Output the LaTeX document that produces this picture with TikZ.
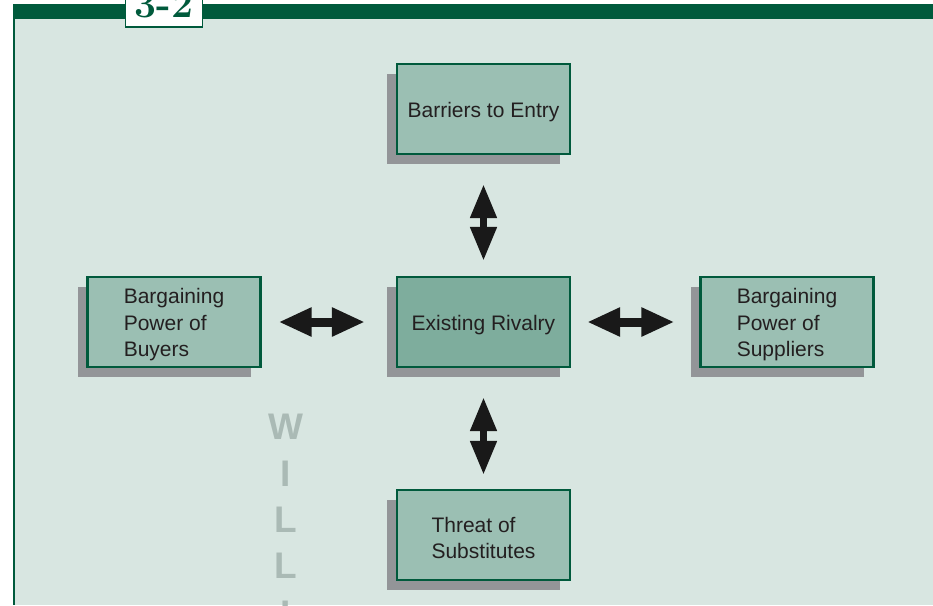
\documentclass[tikz,border=0pt]{standalone}
\usepackage{fontspec}
\setmainfont{Liberation Sans}
\newfontfamily\lblfont{Latin Modern Roman}
\usetikzlibrary{arrows.meta,shadows}
\definecolor{dkgreen}{HTML}{005A3C}
\definecolor{bgteal}{HTML}{D8E6E1}
\definecolor{boxfill}{HTML}{9BBFB3}
\definecolor{rivfill}{HTML}{7EAD9D}
\definecolor{shadowgray}{HTML}{939598}
\definecolor{wmark}{HTML}{AABAB5}
\definecolor{txt}{HTML}{231F20}
\tikzset{
  forcebox/.style={draw=dkgreen, line width=2.2pt, fill=boxfill,
    minimum width=173pt, minimum height=90pt, inner sep=0pt,
    drop shadow={shadow xshift=-10pt, shadow yshift=-10pt, opacity=1, fill=shadowgray}},
  boxtext/.style={align=left, text=txt, font=\fontsize{21}{26.5}\selectfont, inner sep=0pt},
  hdblarrow/.style={draw=black!90, fill=black!90, line width=9pt,
    {Triangle[length=33pt,width=27pt]}-{Triangle[length=33pt,width=27pt]}},
  vdblarrow/.style={draw=black!90, fill=black!90, line width=7.5pt,
    {Triangle[length=34pt,width=25pt]}-{Triangle[length=34pt,width=25pt]}},
  wletter/.style={text=wmark, font=\fontsize{37}{37}\bfseries\selectfont, inner sep=0pt}
}
\begin{document}
\begin{tikzpicture}[x=1pt,y=-1pt]
\useasboundingbox (0,0) rectangle (933,605);
\clip (0,0) rectangle (933,605);
% background
\fill[bgteal] (13,4) rectangle (933,605);
\fill[dkgreen] (13,4) rectangle (933,18.5);
\fill[dkgreen] (13,4) rectangle (15,605);
% label box
\node[draw=dkgreen, line width=1.5pt, fill=white, minimum width=77pt, minimum height=50pt, inner sep=0pt] (lbl) at (164,2) {};
\node[text=dkgreen, font=\fontsize{39}{39}\lblfont\bfseries, anchor=base, inner sep=0pt] (lbltxt) at (164,17) {3-2};
% watermark letters
\node[wletter] (w1) at (286,427) {W};
\node[wletter] (w2) at (286,474) {I};
\node[wletter] (w3) at (286,520) {L};
\node[wletter] (w4) at (286,566) {L};
\node[wletter] (w5) at (286,614) {I};
% boxes
\node[forcebox] (bar) at (483.5,109) {};
\node[forcebox] (buy) at (174,322) {};
\node[forcebox, fill=rivfill] (riv) at (483.5,322) {};
\node[forcebox] (sup) at (787,322) {};
\node[forcebox] (sub) at (483.5,535) {};
% box texts
\node[boxtext] (barT) at ([yshift=-3pt]bar.center) {Barriers to Entry};
\node[boxtext] (buyT) at ([yshift=-3pt]buy.center) {Bargaining\\Power of\\Buyers};
\node[boxtext] (rivT) at ([yshift=-3pt]riv.center) {Existing Rivalry};
\node[boxtext] (supT) at ([yshift=-3pt]sup.center) {Bargaining\\Power of\\Suppliers};
\node[boxtext] (subT) at ([yshift=-3pt]sub.center) {Threat of\\Substitutes};
% arrows
\draw[hdblarrow] ([xshift=17pt]buy.east) -- ([xshift=-31pt]riv.west);
\draw[hdblarrow] ([xshift=16pt]riv.east) -- ([xshift=-25pt]sup.west);
\draw[vdblarrow] ([yshift=-29pt]bar.south) -- ([yshift=15pt]riv.north);
\draw[vdblarrow] ([yshift=-29pt]riv.south) -- ([yshift=14pt]sub.north);
\end{tikzpicture}
\end{document}
